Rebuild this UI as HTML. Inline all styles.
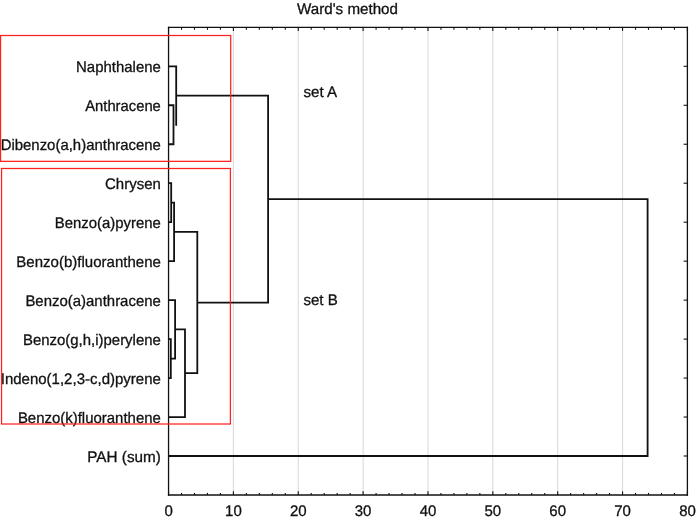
<!DOCTYPE html>
<html lang="en"><head><meta charset="utf-8"><title>Ward's method</title>
<style>html,body{margin:0;padding:0;background:#fff;}body{width:696px;height:521px;overflow:hidden;}svg{display:block;}text{font-family:"Liberation Sans",sans-serif;font-size:15px;fill:#111;text-rendering:geometricPrecision;stroke:#111;stroke-width:0.3px;}</style></head><body>
<svg width="696" height="521" viewBox="0 0 696 521">
<rect x="0" y="0" width="696" height="521" fill="#ffffff"/>
<g stroke="#dcdcdc" stroke-width="1.1" fill="none">
<line x1="233.41" y1="27.30" x2="233.41" y2="495.00"/>
<line x1="298.26" y1="27.30" x2="298.26" y2="495.00"/>
<line x1="363.12" y1="27.30" x2="363.12" y2="495.00"/>
<line x1="427.97" y1="27.30" x2="427.97" y2="495.00"/>
<line x1="492.83" y1="27.30" x2="492.83" y2="495.00"/>
<line x1="557.69" y1="27.30" x2="557.69" y2="495.00"/>
<line x1="622.54" y1="27.30" x2="622.54" y2="495.00"/>
</g>
<g stroke="#111" stroke-width="1.8" fill="none" stroke-linejoin="miter" stroke-linecap="butt">
<polyline points="168.55,105.27 173.50,105.27 173.50,144.24 168.55,144.24"/>
<polyline points="168.55,66.30 176.20,66.30 176.20,125.66"/>
<polyline points="168.55,183.21 171.20,183.21 171.20,222.18 168.55,222.18"/>
<polyline points="171.20,202.69 174.10,202.69 174.10,261.15 168.55,261.15"/>
<polyline points="168.55,339.09 170.80,339.09 170.80,378.06 168.55,378.06"/>
<polyline points="168.55,300.12 175.10,300.12 175.10,358.57 170.80,358.57"/>
<polyline points="175.10,329.35 185.00,329.35 185.00,417.03 168.55,417.03"/>
<polyline points="174.10,231.92 197.30,231.92 197.30,373.19 185.00,373.19"/>
<polyline points="176.20,95.53 268.10,95.53 268.10,302.56 197.30,302.56"/>
<polyline points="268.10,199.04 647.60,199.04 647.60,456.00 168.55,456.00"/>
</g>
<g stroke="#111" stroke-width="1.3" fill="none" stroke-linecap="square">
<line x1="168.55" y1="27.30" x2="687.40" y2="27.30"/>
<line x1="168.55" y1="495.00" x2="687.40" y2="495.00"/>
<line x1="168.55" y1="27.30" x2="168.55" y2="495.00"/>
<line x1="687.40" y1="27.30" x2="687.40" y2="495.00"/>
</g>
<g stroke="#111" stroke-width="1.1" fill="none">
<line x1="168.55" y1="27.30" x2="168.55" y2="30.90"/>
<line x1="168.55" y1="495.00" x2="168.55" y2="491.30"/>
<line x1="181.52" y1="27.30" x2="181.52" y2="29.80"/>
<line x1="181.52" y1="495.00" x2="181.52" y2="492.90"/>
<line x1="194.49" y1="27.30" x2="194.49" y2="29.80"/>
<line x1="194.49" y1="495.00" x2="194.49" y2="492.90"/>
<line x1="207.46" y1="27.30" x2="207.46" y2="29.80"/>
<line x1="207.46" y1="495.00" x2="207.46" y2="492.90"/>
<line x1="220.44" y1="27.30" x2="220.44" y2="29.80"/>
<line x1="220.44" y1="495.00" x2="220.44" y2="492.90"/>
<line x1="233.41" y1="27.30" x2="233.41" y2="30.90"/>
<line x1="233.41" y1="495.00" x2="233.41" y2="491.30"/>
<line x1="246.38" y1="27.30" x2="246.38" y2="29.80"/>
<line x1="246.38" y1="495.00" x2="246.38" y2="492.90"/>
<line x1="259.35" y1="27.30" x2="259.35" y2="29.80"/>
<line x1="259.35" y1="495.00" x2="259.35" y2="492.90"/>
<line x1="272.32" y1="27.30" x2="272.32" y2="29.80"/>
<line x1="272.32" y1="495.00" x2="272.32" y2="492.90"/>
<line x1="285.29" y1="27.30" x2="285.29" y2="29.80"/>
<line x1="285.29" y1="495.00" x2="285.29" y2="492.90"/>
<line x1="298.26" y1="27.30" x2="298.26" y2="30.90"/>
<line x1="298.26" y1="495.00" x2="298.26" y2="491.30"/>
<line x1="311.23" y1="27.30" x2="311.23" y2="29.80"/>
<line x1="311.23" y1="495.00" x2="311.23" y2="492.90"/>
<line x1="324.20" y1="27.30" x2="324.20" y2="29.80"/>
<line x1="324.20" y1="495.00" x2="324.20" y2="492.90"/>
<line x1="337.18" y1="27.30" x2="337.18" y2="29.80"/>
<line x1="337.18" y1="495.00" x2="337.18" y2="492.90"/>
<line x1="350.15" y1="27.30" x2="350.15" y2="29.80"/>
<line x1="350.15" y1="495.00" x2="350.15" y2="492.90"/>
<line x1="363.12" y1="27.30" x2="363.12" y2="30.90"/>
<line x1="363.12" y1="495.00" x2="363.12" y2="491.30"/>
<line x1="376.09" y1="27.30" x2="376.09" y2="29.80"/>
<line x1="376.09" y1="495.00" x2="376.09" y2="492.90"/>
<line x1="389.06" y1="27.30" x2="389.06" y2="29.80"/>
<line x1="389.06" y1="495.00" x2="389.06" y2="492.90"/>
<line x1="402.03" y1="27.30" x2="402.03" y2="29.80"/>
<line x1="402.03" y1="495.00" x2="402.03" y2="492.90"/>
<line x1="415.00" y1="27.30" x2="415.00" y2="29.80"/>
<line x1="415.00" y1="495.00" x2="415.00" y2="492.90"/>
<line x1="427.97" y1="27.30" x2="427.97" y2="30.90"/>
<line x1="427.97" y1="495.00" x2="427.97" y2="491.30"/>
<line x1="440.95" y1="27.30" x2="440.95" y2="29.80"/>
<line x1="440.95" y1="495.00" x2="440.95" y2="492.90"/>
<line x1="453.92" y1="27.30" x2="453.92" y2="29.80"/>
<line x1="453.92" y1="495.00" x2="453.92" y2="492.90"/>
<line x1="466.89" y1="27.30" x2="466.89" y2="29.80"/>
<line x1="466.89" y1="495.00" x2="466.89" y2="492.90"/>
<line x1="479.86" y1="27.30" x2="479.86" y2="29.80"/>
<line x1="479.86" y1="495.00" x2="479.86" y2="492.90"/>
<line x1="492.83" y1="27.30" x2="492.83" y2="30.90"/>
<line x1="492.83" y1="495.00" x2="492.83" y2="491.30"/>
<line x1="505.80" y1="27.30" x2="505.80" y2="29.80"/>
<line x1="505.80" y1="495.00" x2="505.80" y2="492.90"/>
<line x1="518.77" y1="27.30" x2="518.77" y2="29.80"/>
<line x1="518.77" y1="495.00" x2="518.77" y2="492.90"/>
<line x1="531.74" y1="27.30" x2="531.74" y2="29.80"/>
<line x1="531.74" y1="495.00" x2="531.74" y2="492.90"/>
<line x1="544.72" y1="27.30" x2="544.72" y2="29.80"/>
<line x1="544.72" y1="495.00" x2="544.72" y2="492.90"/>
<line x1="557.69" y1="27.30" x2="557.69" y2="30.90"/>
<line x1="557.69" y1="495.00" x2="557.69" y2="491.30"/>
<line x1="570.66" y1="27.30" x2="570.66" y2="29.80"/>
<line x1="570.66" y1="495.00" x2="570.66" y2="492.90"/>
<line x1="583.63" y1="27.30" x2="583.63" y2="29.80"/>
<line x1="583.63" y1="495.00" x2="583.63" y2="492.90"/>
<line x1="596.60" y1="27.30" x2="596.60" y2="29.80"/>
<line x1="596.60" y1="495.00" x2="596.60" y2="492.90"/>
<line x1="609.57" y1="27.30" x2="609.57" y2="29.80"/>
<line x1="609.57" y1="495.00" x2="609.57" y2="492.90"/>
<line x1="622.54" y1="27.30" x2="622.54" y2="30.90"/>
<line x1="622.54" y1="495.00" x2="622.54" y2="491.30"/>
<line x1="635.51" y1="27.30" x2="635.51" y2="29.80"/>
<line x1="635.51" y1="495.00" x2="635.51" y2="492.90"/>
<line x1="648.49" y1="27.30" x2="648.49" y2="29.80"/>
<line x1="648.49" y1="495.00" x2="648.49" y2="492.90"/>
<line x1="661.46" y1="27.30" x2="661.46" y2="29.80"/>
<line x1="661.46" y1="495.00" x2="661.46" y2="492.90"/>
<line x1="674.43" y1="27.30" x2="674.43" y2="29.80"/>
<line x1="674.43" y1="495.00" x2="674.43" y2="492.90"/>
<line x1="687.40" y1="27.30" x2="687.40" y2="30.90"/>
<line x1="687.40" y1="495.00" x2="687.40" y2="491.30"/>
<line x1="687.40" y1="66.30" x2="683.60" y2="66.30"/>
<line x1="687.40" y1="105.27" x2="683.60" y2="105.27"/>
<line x1="687.40" y1="144.24" x2="683.60" y2="144.24"/>
<line x1="687.40" y1="183.21" x2="683.60" y2="183.21"/>
<line x1="687.40" y1="222.18" x2="683.60" y2="222.18"/>
<line x1="687.40" y1="261.15" x2="683.60" y2="261.15"/>
<line x1="687.40" y1="300.12" x2="683.60" y2="300.12"/>
<line x1="687.40" y1="339.09" x2="683.60" y2="339.09"/>
<line x1="687.40" y1="378.06" x2="683.60" y2="378.06"/>
<line x1="687.40" y1="417.03" x2="683.60" y2="417.03"/>
<line x1="687.40" y1="456.00" x2="683.60" y2="456.00"/>
</g>
<text transform="translate(347.50,13.80) scale(1.0110,1.020)" text-anchor="middle">Ward's method</text>
<text transform="translate(160.85,71.80) scale(0.9964,1.020)" text-anchor="end">Naphthalene</text>
<text transform="translate(160.85,110.77) scale(0.9859,1.020)" text-anchor="end">Anthracene</text>
<text transform="translate(160.85,149.74) scale(0.9955,1.020)" text-anchor="end">Dibenzo(a,h)anthracene</text>
<text transform="translate(160.85,188.71) scale(1.0005,1.020)" text-anchor="end">Chrysen</text>
<text transform="translate(160.85,227.68) scale(0.9941,1.020)" text-anchor="end">Benzo(a)pyrene</text>
<text transform="translate(160.85,266.65) scale(1.0019,1.020)" text-anchor="end">Benzo(b)fluoranthene</text>
<text transform="translate(160.85,305.62) scale(0.9965,1.020)" text-anchor="end">Benzo(a)anthracene</text>
<text transform="translate(160.85,344.59) scale(0.9965,1.020)" text-anchor="end">Benzo(g,h,i)perylene</text>
<text transform="translate(160.85,383.56) scale(1.0000,1.020)" text-anchor="end">Indeno(1,2,3-c,d)pyrene</text>
<text transform="translate(160.85,422.53) scale(0.9967,1.020)" text-anchor="end">Benzo(k)fluoranthene</text>
<text transform="translate(160.85,461.50) scale(1.0181,1.020)" text-anchor="end">PAH (sum)</text>
<text transform="translate(168.55,515.70) scale(1.0000,1.020)" text-anchor="middle">0</text>
<text transform="translate(233.41,515.70) scale(1.0000,1.020)" text-anchor="middle">10</text>
<text transform="translate(298.26,515.70) scale(1.0000,1.020)" text-anchor="middle">20</text>
<text transform="translate(363.12,515.70) scale(1.0000,1.020)" text-anchor="middle">30</text>
<text transform="translate(427.97,515.70) scale(1.0000,1.020)" text-anchor="middle">40</text>
<text transform="translate(492.83,515.70) scale(1.0000,1.020)" text-anchor="middle">50</text>
<text transform="translate(557.69,515.70) scale(1.0000,1.020)" text-anchor="middle">60</text>
<text transform="translate(622.54,515.70) scale(1.0000,1.020)" text-anchor="middle">70</text>
<text transform="translate(695.90,515.70) scale(1.0000,1.020)" text-anchor="end">80</text>
<text transform="translate(303.40,96.50) scale(1.0100,1.020)" text-anchor="start">set A</text>
<text transform="translate(303.40,305.20) scale(1.0050,1.020)" text-anchor="start">set B</text>
<g stroke="#ff2020" stroke-width="1.25" fill="none">
<rect x="0.55" y="35.5" width="230.15" height="125.85"/>
<rect x="1.55" y="168.5" width="228.85" height="255.5"/>
</g>
</svg></body></html>
